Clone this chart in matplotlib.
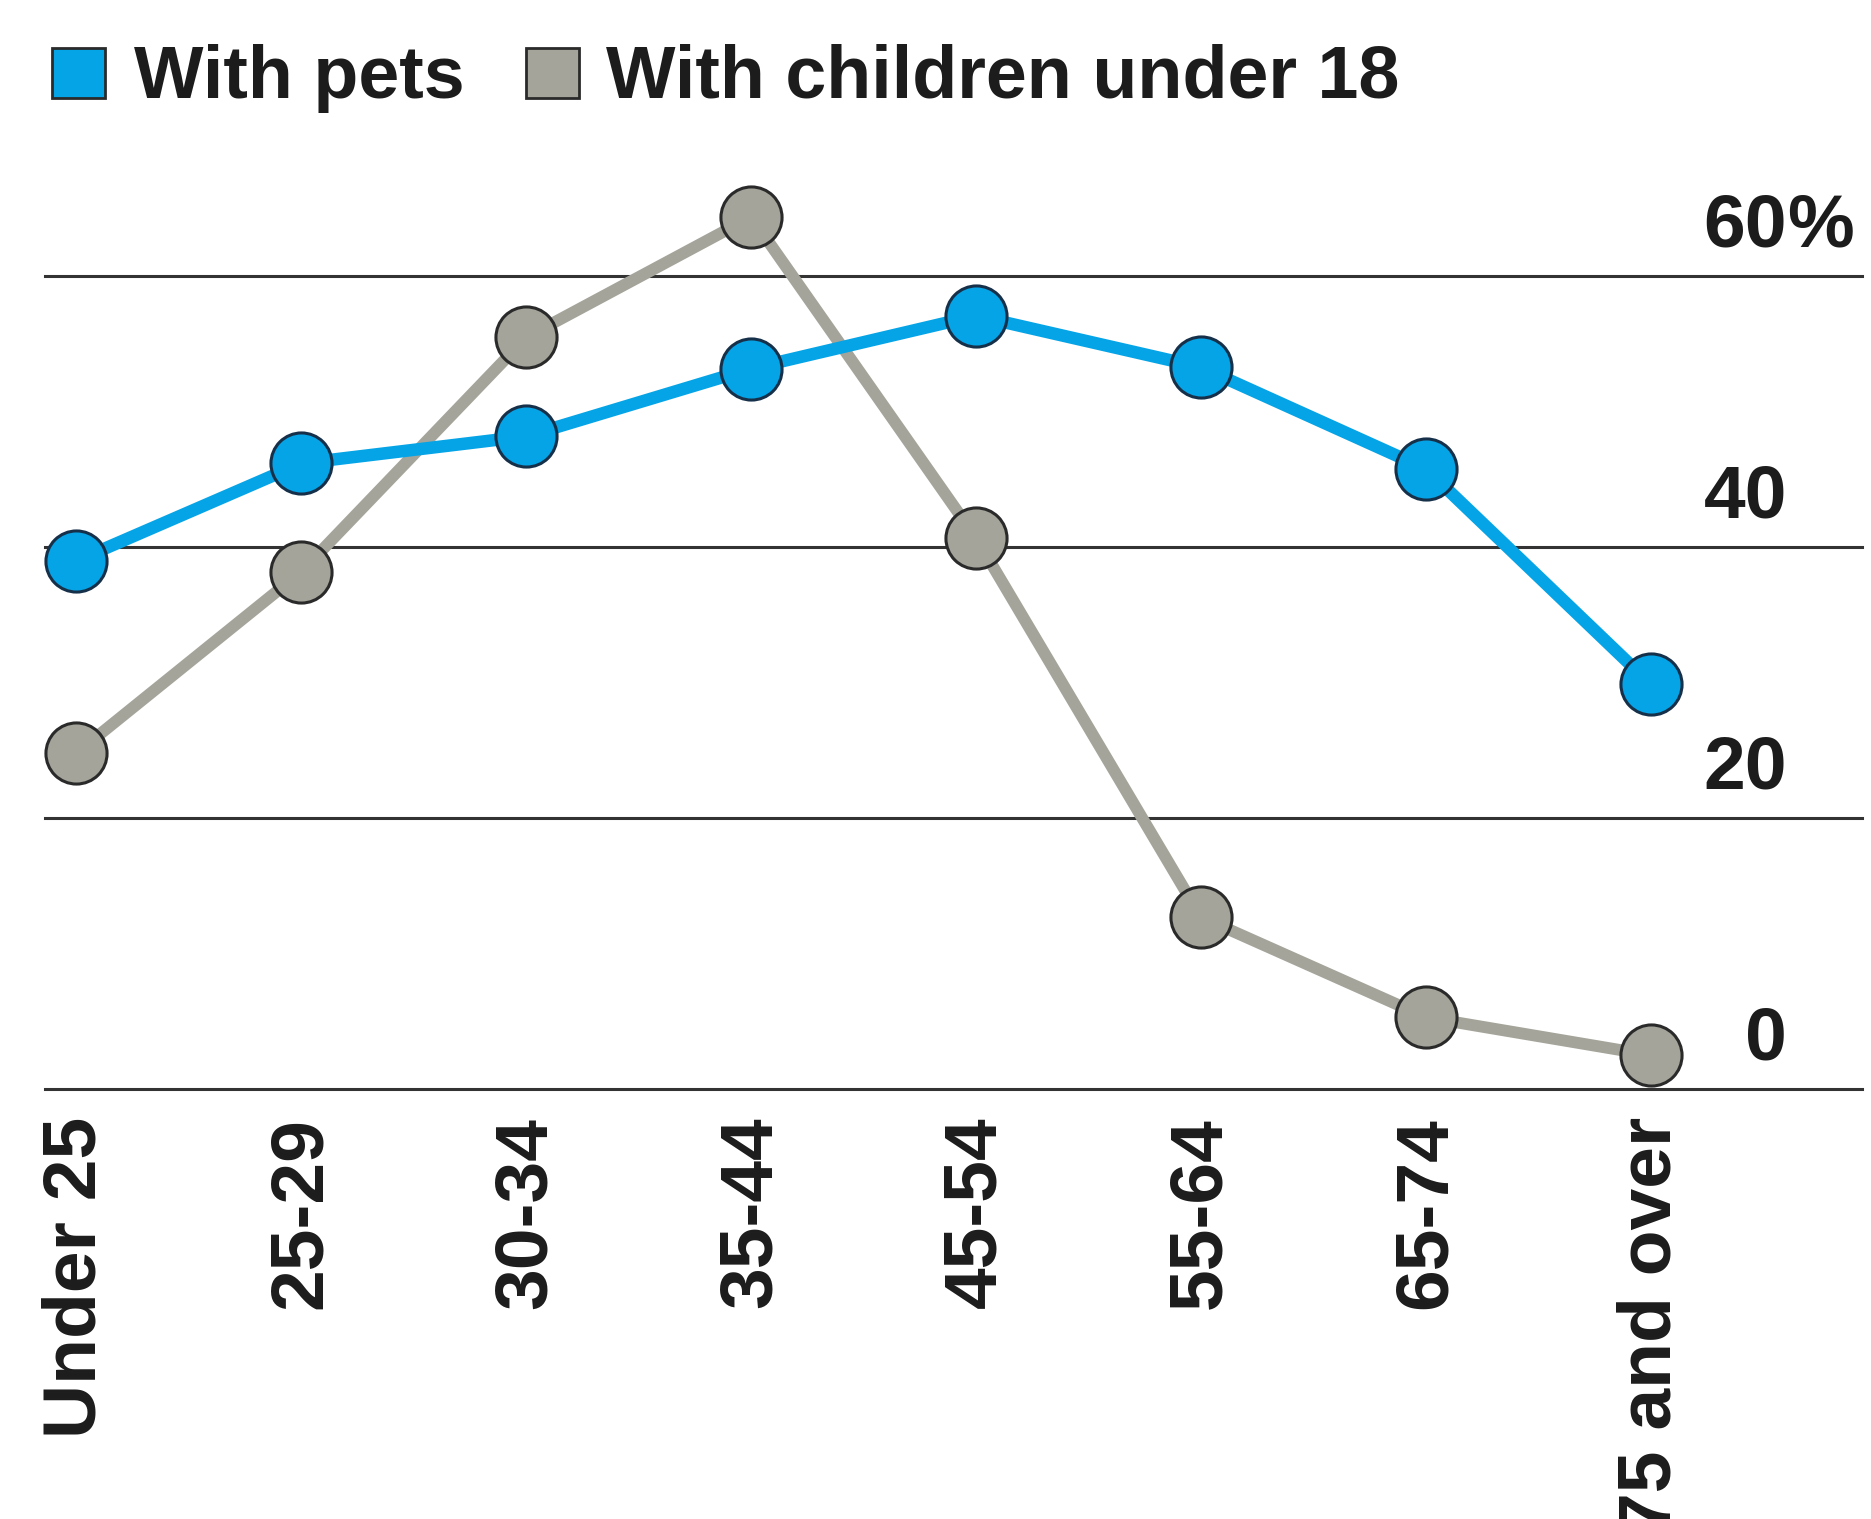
import matplotlib
matplotlib.use("Agg")
import matplotlib.pyplot as plt
from matplotlib.patches import Rectangle

# Share of households by age of householder
age_groups = ["Under 25", "25-29", "30-34", "35-44", "45-54", "55-64", "65-74", "75 and over"]
with_pets = [39.0, 46.2, 48.2, 53.2, 57.1, 53.3, 45.8, 29.9]
with_children = [24.8, 38.2, 55.5, 64.4, 40.7, 12.7, 5.3, 2.5]
y_ticks = [0, 20, 40, 60]
legend_labels = ["With pets", "With children under 18"]

BLUE = "#05a4e6"
GRAY = "#a4a49a"
INK = "#1c1c1c"

plt.rcParams["font.family"] = ["Liberation Sans", "DejaVu Sans"]

W, H = 1871, 1519
fig = plt.figure(figsize=(W / 100, H / 100), dpi=100)
fig.patch.set_facecolor("white")

# axes box in pixel terms: gridlines run 45..1862 px, zero line at 1089 px from top
left_px, right_px = 45, 1862
bottom_px, top_px = 1089, 150
ax = fig.add_axes([left_px / W, 1 - bottom_px / H,
                   (right_px - left_px) / W, (bottom_px - top_px) / H])
ax.set_facecolor("none")

x0_px, step_px = 76.4, 224.9
ax.set_xlim((left_px - x0_px) / step_px, (right_px - x0_px) / step_px)
px_per_unit = (1089 - 276.5) / 60
ax.set_ylim(0, (bottom_px - top_px) / px_per_unit)

for s in ax.spines.values():
    s.set_visible(False)
ax.set_yticks([])
ax.tick_params(axis="x", length=0, pad=20)

xs = list(range(len(age_groups)))
ax.set_xticks(xs)
ax.set_xticklabels(age_groups, rotation=90, fontsize=54, fontweight="bold",
                   color=INK, va="top", ha="center")

for v in y_ticks:
    ax.axhline(v, color="#333333", lw=2.2, zorder=1, clip_on=False)

# right-hand value labels sitting above each gridline
trans = ax.get_yaxis_transform()
label_x = (1787 - left_px) / (right_px - left_px)
for v in y_ticks:
    ax.text(label_x, v + 30 / px_per_unit, str(v), transform=trans,
            ha="right", va="baseline", fontsize=54, fontweight="bold", color=INK)
ax.text(label_x, y_ticks[-1] + 30 / px_per_unit, "%", transform=trans,
        ha="left", va="baseline", fontsize=54, fontweight="bold", color=INK)

ax.plot(xs, with_children, color=GRAY, lw=8.5, zorder=2, clip_on=False,
        marker="o", markersize=44, markerfacecolor=GRAY,
        markeredgecolor="#2a2a2a", markeredgewidth=2.2, solid_capstyle="round")
ax.plot(xs, with_pets, color=BLUE, lw=9.0, zorder=3, clip_on=False,
        marker="o", markersize=44, markerfacecolor=BLUE,
        markeredgecolor="#16304a", markeredgewidth=2.2, solid_capstyle="round")

# legend row at top
def legend_item(x_sq, x_txt, color, label):
    fig.patches.append(Rectangle((x_sq / W, 1 - 98 / H), 53 / W, 50 / H,
                                 transform=fig.transFigure, facecolor=color,
                                 edgecolor="#2a2a2a", lw=2.0))
    fig.text(x_txt / W, 1 - 98 / H, label, ha="left", va="baseline",
             fontsize=53, fontweight="bold", color=INK)

legend_item(52, 134, BLUE, legend_labels[0])
legend_item(526, 606, GRAY, legend_labels[1])

fig.savefig("out.png", dpi=100, facecolor="white")
